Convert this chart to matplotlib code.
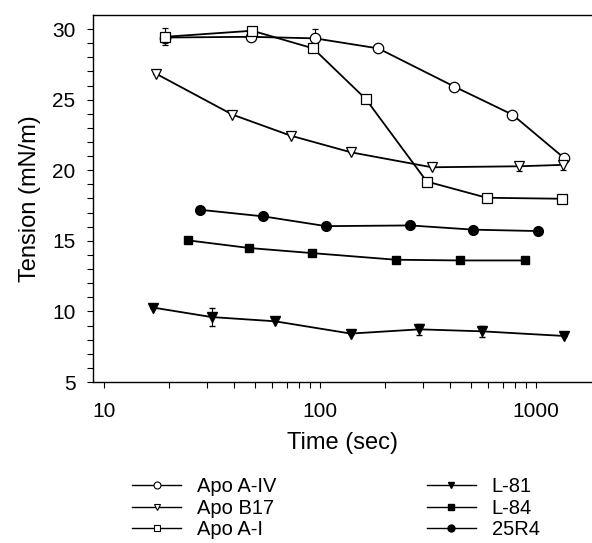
import matplotlib
matplotlib.use("Agg")
import matplotlib.pyplot as plt
from matplotlib.lines import Line2D
from matplotlib.ticker import NullFormatter, FixedLocator

plt.rcParams['font.family'] = ['Liberation Sans', 'DejaVu Sans']

# Apo A-IV (open circles)
a4_t = [19.1, 47.7, 94.8, 186, 419, 777, 1352]
a4_v = [29.4, 29.45, 29.34, 28.63, 25.92, 23.94, 20.85]
a4_e = [0, 0, 0.65, 0, 0, 0, 0]
# Apo B17 (open down triangles)
b17_t = [17.5, 39.3, 73.1, 139, 329, 837, 1331]
b17_v = [26.82, 23.94, 22.45, 21.27, 20.21, 20.28, 20.38]
b17_e = [0, 0, 0, 0, 0, 0.3, 0.35]
# Apo A-I (open squares)
a1_t = [19.1, 48.6, 93, 162.7, 312, 591, 1315]
a1_v = [29.45, 29.88, 28.63, 25.05, 19.2, 18.05, 17.98]
a1_e = [0.6, 0, 0, 0, 0, 0, 0]
# L-81 (filled down triangles)
l81_t = [16.9, 31.5, 61.9, 138.7, 288.5, 561, 1349]
l81_v = [10.27, 9.6, 9.3, 8.43, 8.73, 8.59, 8.26]
l81_e = [0, 0.64, 0, 0, 0.4, 0.4, 0]
# L-84 (filled squares)
l84_t = [24.6, 47.1, 92, 224, 444, 889]
l84_v = [15.03, 14.49, 14.13, 13.66, 13.61, 13.61]
# 25R4 (filled circles)
r4_t = [27.8, 54.7, 106.6, 261, 513, 1026]
r4_v = [17.2, 16.73, 16.04, 16.09, 15.79, 15.69]

labels = ['Apo A-IV', 'Apo B17', 'Apo A-I', 'L-81', 'L-84', '25R4']

fig = plt.figure(figsize=(5.92, 5.43), dpi=100)
ax = fig.add_axes([0.157, 0.2965, 0.843, 0.676])

lw = 1.3
ebkw = dict(color='black', lw=lw, capsize=2.5, elinewidth=0.8)
ax.errorbar(a4_t, a4_v, yerr=a4_e, marker='o', ms=7.5, mfc='white', mec='black', mew=0.9, zorder=3, **ebkw)
ax.errorbar(b17_t, b17_v, yerr=b17_e, marker='v', ms=7.5, mfc='white', mec='black', mew=0.9, zorder=3, **ebkw)
ax.errorbar(a1_t, a1_v, yerr=a1_e, marker='s', ms=6.5, mfc='white', mec='black', mew=0.9, zorder=4, **ebkw)
ax.errorbar(l81_t, l81_v, yerr=l81_e, marker='v', ms=6.5, mfc='black', mec='black', zorder=3, **ebkw)
ax.plot(l84_t, l84_v, color='black', lw=lw, marker='s', ms=6, mfc='black', zorder=3)
ax.plot(r4_t, r4_v, color='black', lw=lw, marker='o', ms=7, mfc='black', zorder=3)

ax.set_xscale('log')
ax.set_xlim(8.89, 1815)
ax.set_ylim(5, 31)
ax.xaxis.set_major_locator(FixedLocator([10, 100, 1000]))
ax.xaxis.set_minor_locator(FixedLocator([i * 10 for i in range(2, 10)] + [i * 100 for i in range(2, 10)]))
ax.xaxis.set_minor_formatter(NullFormatter())
ax.set_xticklabels(['10', '100', '1000'])
ax.set_yticks([5, 10, 15, 20, 25, 30])
ax.set_yticks(range(6, 31), minor=True)
ax.tick_params(which='both', direction='out', labelsize=15, width=0.8, length=4.5)
ax.tick_params(axis='x', pad=10)
ax.tick_params(axis='y', pad=8)
ax.spines['right'].set_visible(False)
for s in ['left', 'bottom', 'top']:
    ax.spines[s].set_linewidth(1.0)

ax.set_xlabel('Time (sec)', fontsize=17, labelpad=8)
ax.set_ylabel('Tension (mN/m)', fontsize=17, labelpad=8)

# legend handles without error bars
handles = [
    Line2D([], [], color='black', lw=1, marker='o', ms=5, mfc='white', mec='black', mew=0.8),
    Line2D([], [], color='black', lw=1, marker='v', ms=5, mfc='white', mec='black', mew=0.8),
    Line2D([], [], color='black', lw=1, marker='s', ms=4.5, mfc='white', mec='black', mew=0.8),
    Line2D([], [], color='black', lw=1, marker='v', ms=5, mfc='black'),
    Line2D([], [], color='black', lw=1, marker='s', ms=4.5, mfc='black'),
    Line2D([], [], color='black', lw=1, marker='o', ms=5, mfc='black'),
]
fig.legend(handles, labels, ncol=2, loc='upper left', bbox_to_anchor=(0.21, 0.136),
           frameon=False, fontsize=14.5, handlelength=2.4,
           columnspacing=7.5, labelspacing=0.12, handletextpad=0.8, borderaxespad=0)

fig.savefig('out.png', dpi=100)
